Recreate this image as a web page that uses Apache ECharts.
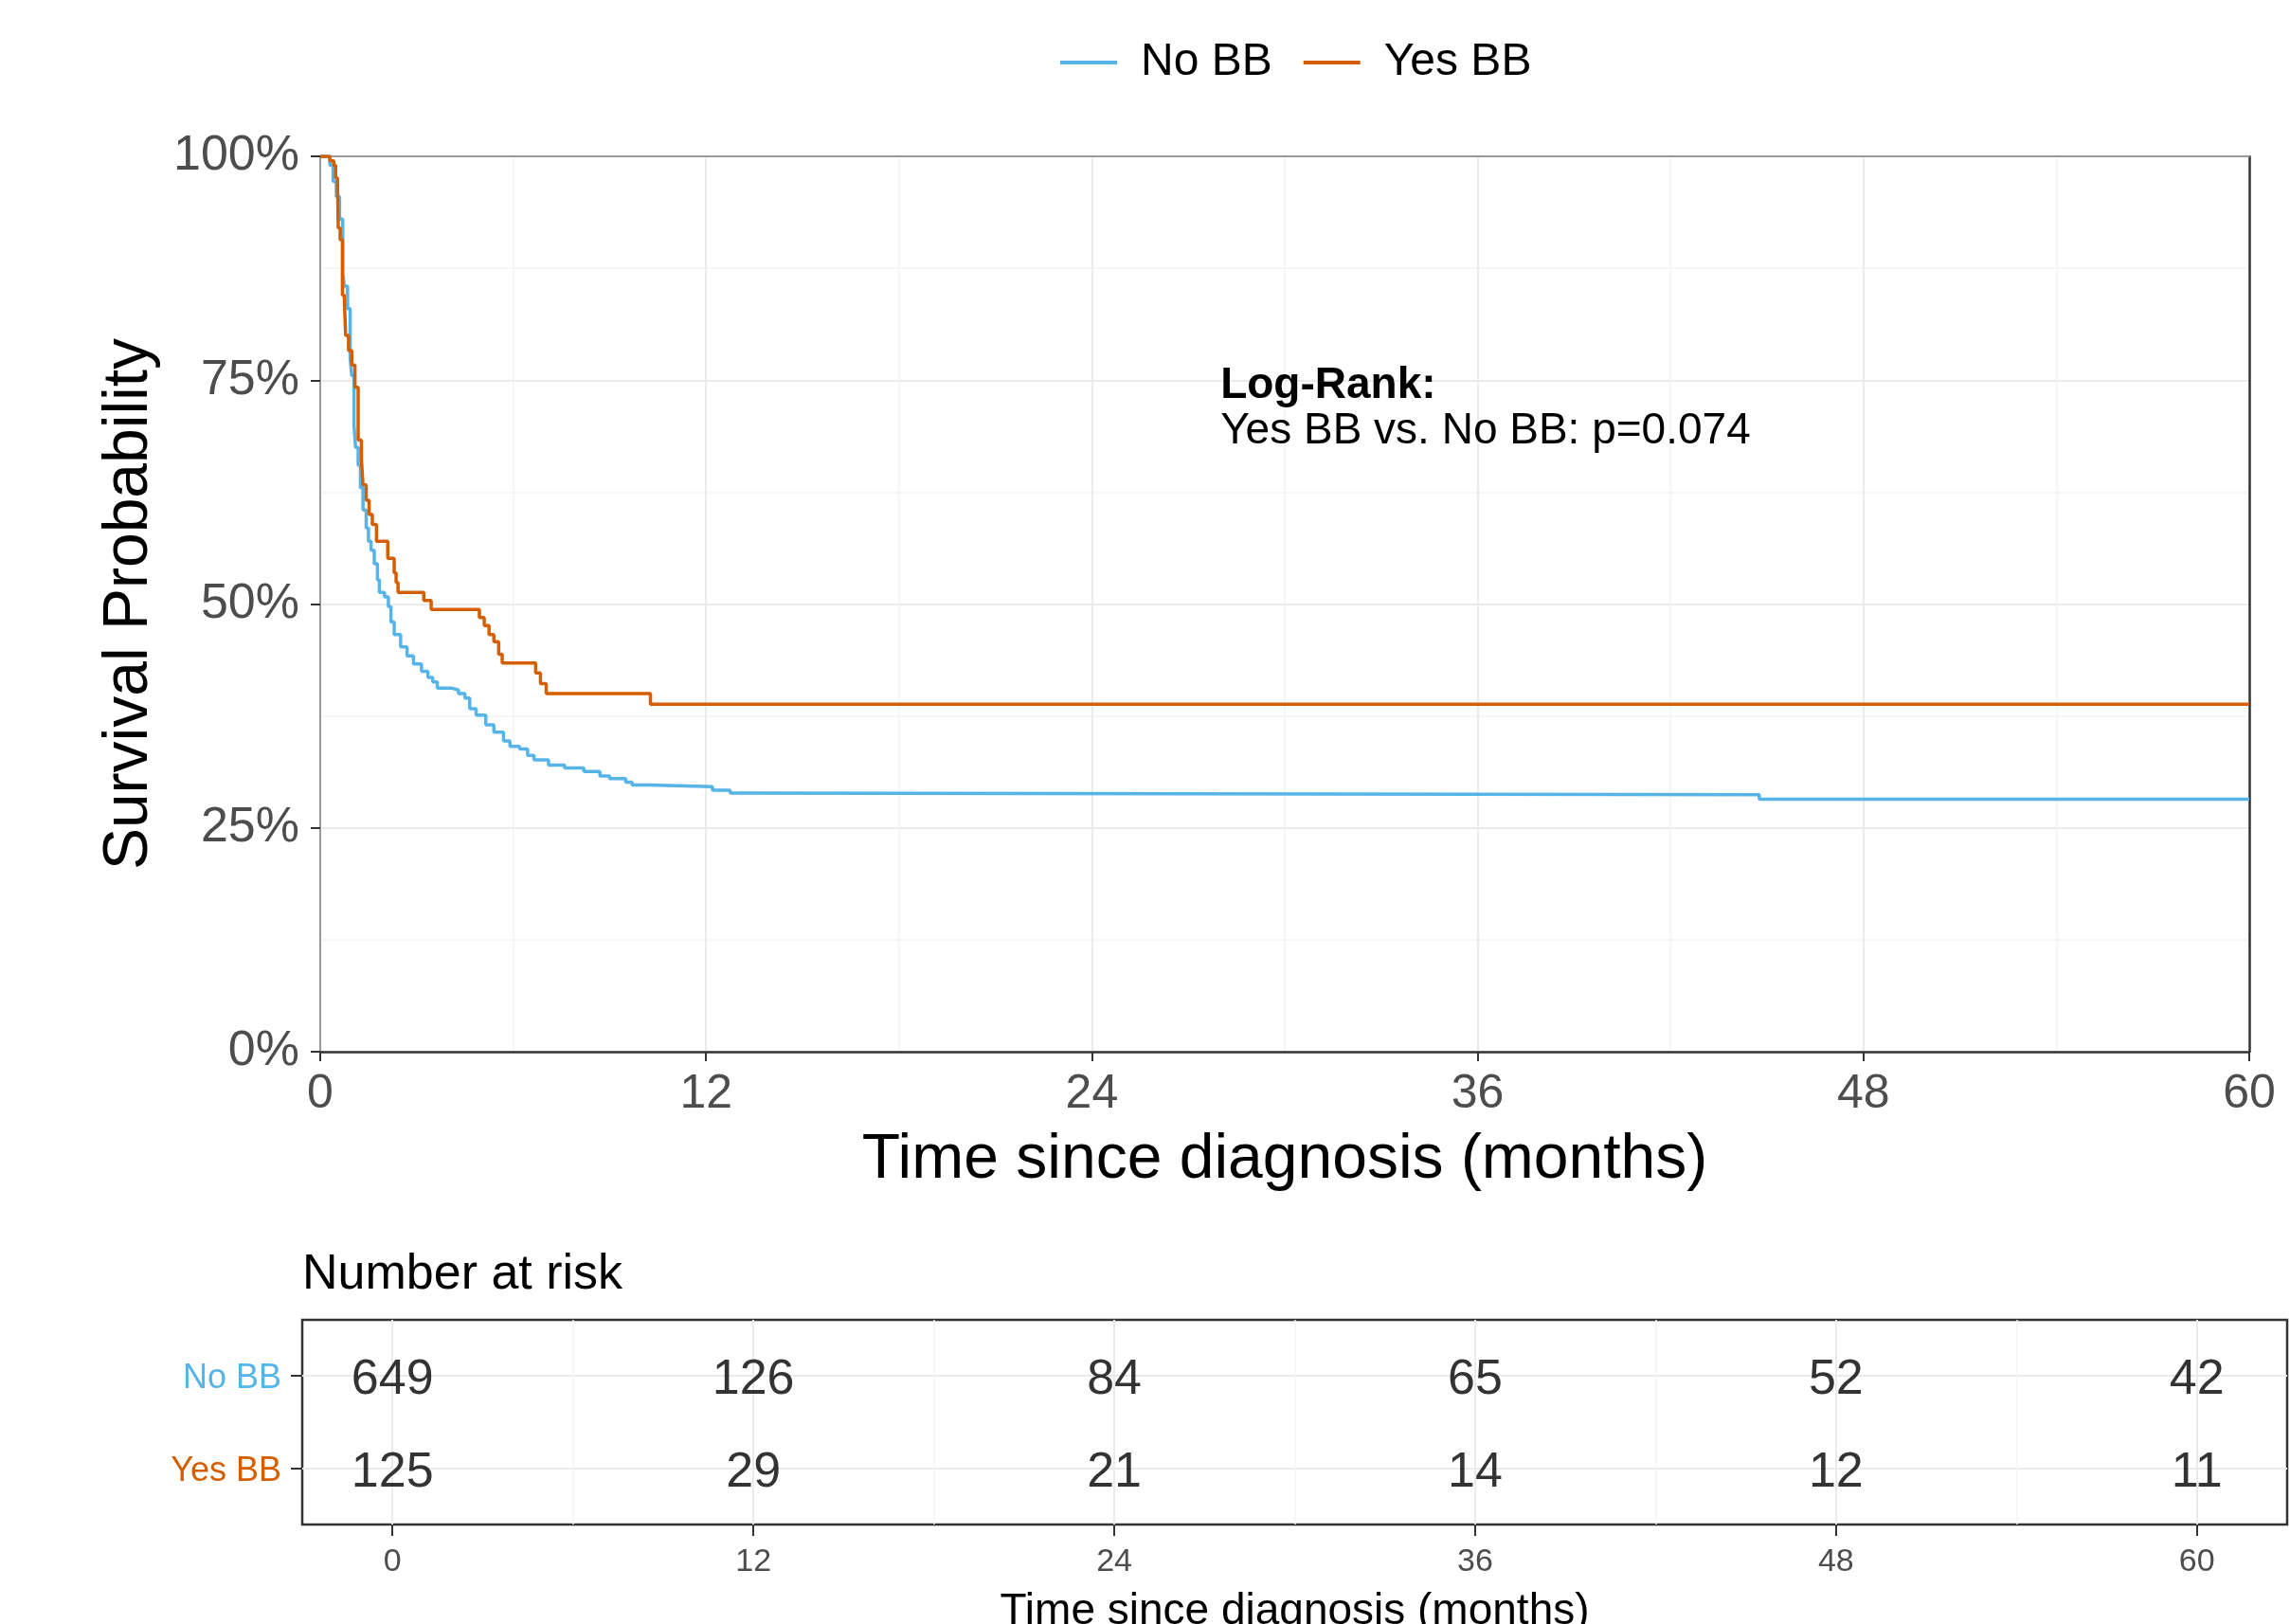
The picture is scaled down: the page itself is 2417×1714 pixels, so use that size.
<!DOCTYPE html>
<html>
<head>
<meta charset="utf-8">
<title>Survival by BB use</title>
<script src="https://cdn.jsdelivr.net/npm/echarts@6.0.0/dist/echarts.min.js"></script>
<style>
  html, body { margin: 0; padding: 0; background: #fff; }
  #km { width: 2417px; height: 1714px; }
</style>
</head>
<body>
<div id="km"></div>
<script>
'use strict';

// KM steps: time (months) and survival after each drop
var noBBTime = [0, 0.3, 0.4, 0.5, 0.6, 0.7, 0.75, 0.85, 0.93, 0.98, 1.05, 1.1, 1.18, 1.25, 1.33, 1.43, 1.5, 1.58,
  1.68, 1.78, 1.84, 2.0, 2.12, 2.2, 2.3, 2.5, 2.7, 2.9, 3.15, 3.35, 3.5, 3.64, 4.1, 4.3, 4.5, 4.65, 4.85, 5.15,
  5.4, 5.7, 5.9, 6.2, 6.45, 6.65, 7.1, 7.6, 8.2, 8.7, 9.0, 9.5, 9.7, 10.25, 12.2, 12.75, 13.2, 44.76, 60];
var noBBSurv = [1, 0.99, 0.972, 0.955, 0.93, 0.87, 0.855, 0.83, 0.775, 0.755, 0.70, 0.675, 0.655, 0.63, 0.605, 0.585, 0.57, 0.56,
  0.545, 0.527, 0.513, 0.508, 0.497, 0.48, 0.466, 0.452, 0.442, 0.433, 0.425, 0.418, 0.413, 0.406, 0.404, 0.400, 0.395, 0.383, 0.376, 0.365,
  0.357, 0.347, 0.341, 0.338, 0.331, 0.326, 0.320, 0.317, 0.313, 0.308, 0.305, 0.301, 0.298, 0.296, 0.292, 0.289, 0.287, 0.282, 0.282];

var yesBBTime = [0, 0.3, 0.42, 0.48, 0.54, 0.56, 0.62, 0.69, 0.75, 0.79, 0.88, 0.98, 1.08, 1.18, 1.28, 1.33, 1.43, 1.52,
  1.62, 1.75, 2.1, 2.3, 2.36, 2.42, 3.22, 3.45, 4.95, 5.1, 5.25, 5.4, 5.55, 5.66, 6.7, 6.85, 7.03, 10.27, 60];
var yesBBSurv = [1, 0.995, 0.99, 0.976, 0.965, 0.92, 0.907, 0.845, 0.84, 0.80, 0.783, 0.767, 0.742, 0.683, 0.662, 0.633, 0.616, 0.60,
  0.589, 0.57, 0.551, 0.535, 0.524, 0.513, 0.504, 0.494, 0.485, 0.476, 0.466, 0.458, 0.444, 0.434, 0.423, 0.411, 0.400, 0.388, 0.388];

// number at risk
var riskTimes = [0, 12, 24, 36, 48, 60];
var minorTimes = [6, 18, 30, 42, 54];
var noBBRisk = [649, 126, 84, 65, 52, 42];
var yesBBRisk = [125, 29, 21, 14, 12, 11];

var groups = ['No BB', 'Yes BB'];
var colors = ['#56B4E9', '#D55E00'];
var pctTicks = ['0%', '25%', '50%', '75%', '100%'];
var logRank = ['Log-Rank:', 'Yes BB vs. No BB: p=0.074'];
var logRankAt = [28, 0.75];

var font = "'Liberation Sans', Arial, sans-serif";
var gridMajor = {lineStyle: {color: '#EBEBEB', width: 2}};
var gridMinor = {lineStyle: {color: '#F4F4F4', width: 1.5}};

var zip = function (xs, ys) {
  var out = [];
  for (var i = 0; i < xs.length; i++) out.push([xs[i], ys[i]]);
  return out;
};

var riskRows = [];
for (var i = 0; i < riskTimes.length; i++) {
  riskRows.push([riskTimes[i], 2, noBBRisk[i]]);
  riskRows.push([riskTimes[i], 1, yesBBRisk[i]]);
}

var chart = echarts.init(document.getElementById('km'));

var option = {
  animation: false,
  backgroundColor: '#fff',
  textStyle: {fontFamily: font},
  title: {
    text: 'Number at risk',
    left: 319, top: 1320, padding: 0,
    textStyle: {fontFamily: font, fontSize: 52, fontWeight: 'normal', color: '#000'}
  },
  legend: {
    data: groups,
    left: 1114, top: 37,
    icon: 'rect', itemWidth: 60, itemHeight: 4, itemGap: 33,
    textStyle: {fontFamily: font, fontSize: 48, color: '#000', padding: [0, 0, 0, 20]}
  },
  grid: [
    {left: 338, top: 165, width: 2036, height: 945, outerBoundsMode: 'none'},
    {left: 319, top: 1393, width: 2095, height: 216, outerBoundsMode: 'none',
      show: true, borderColor: '#333', borderWidth: 2.5}
  ],
  xAxis: [
    {
      gridIndex: 0, type: 'value', min: 0, max: 60, interval: 12,
      name: 'Time since diagnosis (months)', nameLocation: 'middle', nameGap: 82,
      nameTextStyle: {fontFamily: font, fontSize: 66, color: '#000'},
      axisLine: {show: true, onZero: false, lineStyle: {color: '#333', width: 2.5}},
      axisTick: {show: true, length: 10, lineStyle: {color: '#333', width: 2}},
      axisLabel: {fontFamily: font, fontSize: 50, color: '#4D4D4D', margin: 20},
      splitLine: gridMajor,
      minorTick: {show: false, splitNumber: 2},
      minorSplitLine: Object.assign({show: true}, gridMinor)
    },
    {
      gridIndex: 0, type: 'value', position: 'top', min: 0, max: 60,
      axisLine: {show: true, onZero: false, lineStyle: {color: '#9A9A9A', width: 2}},
      axisTick: {show: false}, axisLabel: {show: false}, splitLine: {show: false}
    },
    {
      gridIndex: 1, type: 'value', min: -3, max: 63,
      name: 'Time since diagnosis (months)', nameLocation: 'middle', nameGap: 69,
      nameTextStyle: {fontFamily: font, fontSize: 46, color: '#000'},
      axisLine: {show: false, onZero: false},
      axisTick: {show: true, length: 12, customValues: riskTimes, lineStyle: {color: '#333', width: 2}},
      axisLabel: {customValues: riskTimes, fontFamily: font, fontSize: 34, color: '#4D4D4D', margin: 23},
      splitLine: gridMajor
    },
    {
      gridIndex: 1, type: 'value', min: -3, max: 63,
      axisLine: {show: false, onZero: false}, axisLabel: {show: false},
      axisTick: {show: false, customValues: minorTimes},
      splitLine: Object.assign({show: true}, gridMinor)
    }
  ],
  yAxis: [
    {
      gridIndex: 0, type: 'value', min: 0, max: 1, interval: 0.25,
      name: 'Survival Probability', nameLocation: 'middle', nameGap: 168, nameRotate: 90,
      nameTextStyle: {fontFamily: font, fontSize: 66, color: '#000'},
      axisLine: {show: true, onZero: false, lineStyle: {color: '#9A9A9A', width: 2}},
      axisTick: {show: true, length: 10, lineStyle: {color: '#333', width: 2}},
      axisLabel: {
        fontFamily: font, fontSize: 52, color: '#4D4D4D', margin: 22,
        formatter: function (v) { return pctTicks[Math.round(v / 0.25)]; }
      },
      splitLine: gridMajor,
      minorTick: {show: false, splitNumber: 2},
      minorSplitLine: Object.assign({show: true}, gridMinor)
    },
    {
      gridIndex: 0, type: 'value', position: 'right', min: 0, max: 1,
      axisLine: {show: true, onZero: false, lineStyle: {color: '#333', width: 2.5}},
      axisTick: {show: false}, axisLabel: {show: false}, splitLine: {show: false}
    },
    {
      gridIndex: 1, type: 'value', min: 0.4, max: 2.6,
      axisLine: {show: false, onZero: false},
      axisTick: {show: true, length: 12, customValues: [1, 2], lineStyle: {color: '#333', width: 2}},
      axisLabel: {
        customValues: [1, 2], margin: 22,
        formatter: function (v) { return v === 2 ? '{a|' + groups[0] + '}' : '{b|' + groups[1] + '}'; },
        rich: {
          a: {fontFamily: font, fontSize: 36, color: colors[0], padding: [6, 0, 0, 0]},
          b: {fontFamily: font, fontSize: 36, color: colors[1], padding: [6, 0, 0, 0]}
        }
      },
      splitLine: gridMajor
    }
  ],
  series: [
    {
      name: groups[0], type: 'line', step: 'end', xAxisIndex: 0, yAxisIndex: 0,
      showSymbol: false, symbol: 'none', color: colors[0],
      lineStyle: {width: 3.5, color: colors[0]},
      data: zip(noBBTime, noBBSurv)
    },
    {
      name: groups[1], type: 'line', step: 'end', xAxisIndex: 0, yAxisIndex: 0,
      showSymbol: false, symbol: 'none', color: colors[1],
      lineStyle: {width: 3.5, color: colors[1]},
      data: zip(yesBBTime, yesBBSurv)
    },
    {
      name: 'risk', type: 'scatter', xAxisIndex: 2, yAxisIndex: 2,
      symbolSize: 1, itemStyle: {color: 'rgba(0,0,0,0)'},
      label: {
        show: true, position: 'inside', offset: [0, 5], fontFamily: font, fontSize: 52, color: '#000',
        formatter: function (p) { return String(p.value[2]); }
      },
      data: riskRows
    }
  ]
};
chart.setOption(option);

// log-rank note anchored in data coordinates
var at = chart.convertToPixel({gridIndex: 0}, logRankAt);
chart.setOption({
  graphic: [{
    type: 'text', left: at[0], top: at[1] - 17,
    style: {
      text: '{h|' + logRank[0] + '}\n{t|' + logRank[1] + '}',
      rich: {
        h: {fontFamily: font, fontSize: 46, fontWeight: 'bold', color: '#000', lineHeight: 48},
        t: {fontFamily: font, fontSize: 46, color: '#000', lineHeight: 48}
      }
    }
  }]
});
window.onresize = chart.resize;
</script>
</body>
</html>
